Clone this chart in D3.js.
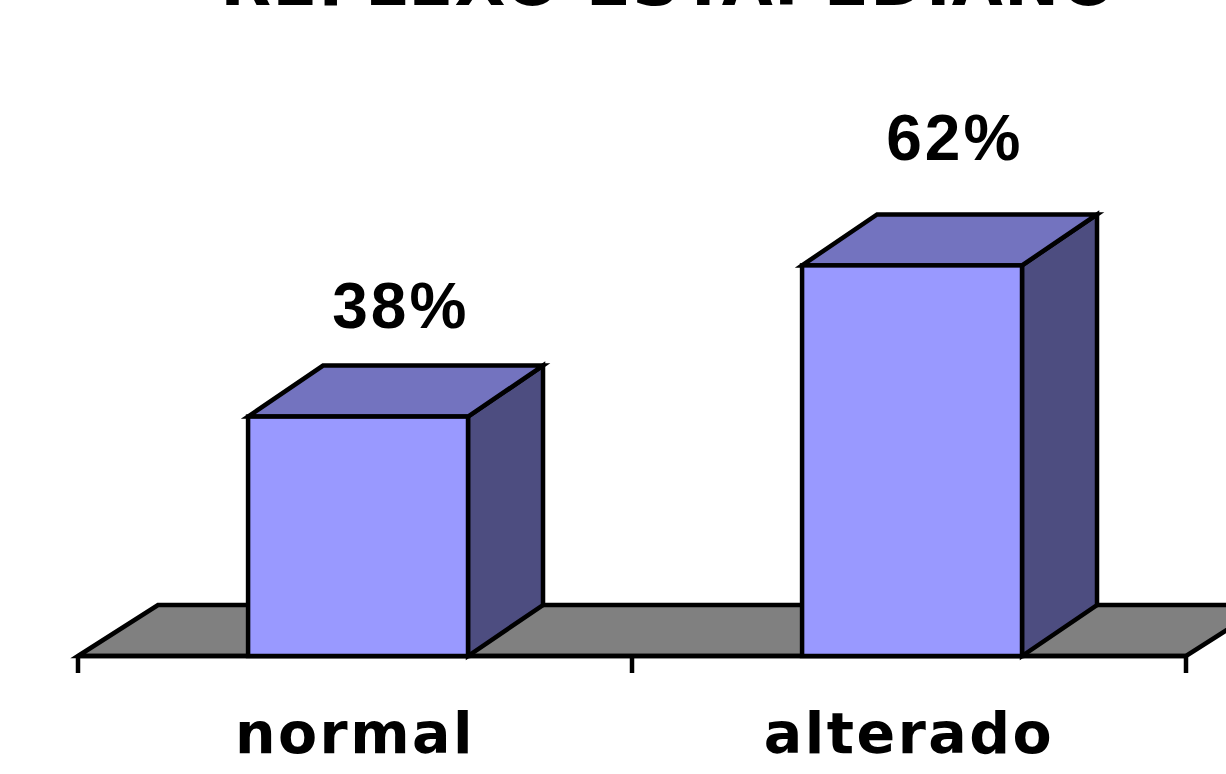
<!DOCTYPE html>
<html>
<head>
<meta charset="utf-8">
<script src="https://cdn.jsdelivr.net/npm/d3@7"></script>
<style>
  html, body { margin: 0; padding: 0; background: #fff; }
  svg { display: block; }
</style>
</head>
<body>
<svg id="chart" width="1226" height="774"></svg>
<script>
// Reflexo estapediano: share of normal vs. altered results
const title = "REFLEXO ESTAPEDIANO";
const categories = ["normal", "alterado"];
const values = [38, 62];
const valueLabels = ["38%", "62%"];

const W = 1226, H = 774;
const svg = d3.select("#chart");

// Horizontal band per category along the floor's front edge
const x = d3.scaleBand().domain(categories).range([78, 1186]).padding(0);
// Vertical value scale (percent) for the bar fronts
const y = d3.scaleLinear().domain([0, 100]).range([656, 26]);
// Value labels float above the bar tops
const yLabel = d3.scaleLinear().domain([0, 100]).range([594, -106]);

// 3D offsets
const depthX = 75, depthY = -51;
const floorDX = 80, floorDY = -51;

const frontColor = "#9999FF";
const topColor = "#7373BF";
const sideColor = "#4D4D80";
const floorColor = "#808080";
const stroke = "#000";
const sw = 4.5;

const [x0, x1] = x.range();
const y0 = y(0);

// Floor
svg.append("polygon")
  .attr("points", [[x0, y0], [x0 + floorDX, y0 + floorDY], [x1 + floorDX, y0 + floorDY], [x1, y0]].join(" "))
  .attr("fill", floorColor)
  .attr("stroke", stroke)
  .attr("stroke-width", sw)
  .attr("stroke-linejoin", "miter");

// Axis line with tick marks at the band boundaries
const axis = svg.append("g");
axis.append("line")
  .attr("x1", x0).attr("x2", x1)
  .attr("y1", y0).attr("y2", y0)
  .attr("stroke", stroke).attr("stroke-width", sw);
const boundaries = categories.map(c => x(c)).concat([x1]);
axis.selectAll("line.tick").data(boundaries).enter().append("line")
  .attr("class", "tick")
  .attr("x1", d => d).attr("x2", d => d)
  .attr("y1", y0).attr("y2", y0 + 17)
  .attr("stroke", stroke).attr("stroke-width", sw);

// Bars
const bw = x.bandwidth();
const barOffset = bw * 0.307, barWidth = bw * 0.397;
const bars = svg.selectAll("g.bar").data(categories.map((c, i) => ({ c, v: values[i], label: valueLabels[i] })))
  .enter().append("g").attr("class", "bar");

bars.each(function(d) {
  const g = d3.select(this);
  const bx = x(d.c) + barOffset;
  const top = y(d.v);
  const right = bx + barWidth;
  // side face
  g.append("polygon")
    .attr("points", [[right, top], [right + depthX, top + depthY], [right + depthX, y0 + depthY], [right, y0]].join(" "))
    .attr("fill", sideColor).attr("stroke", stroke).attr("stroke-width", sw).attr("stroke-linejoin", "miter");
  // top face
  g.append("polygon")
    .attr("points", [[bx, top], [bx + depthX, top + depthY], [right + depthX, top + depthY], [right, top]].join(" "))
    .attr("fill", topColor).attr("stroke", stroke).attr("stroke-width", sw).attr("stroke-linejoin", "miter");
  // front face
  g.append("rect")
    .attr("x", bx).attr("y", top)
    .attr("width", barWidth).attr("height", y0 - top)
    .attr("fill", frontColor).attr("stroke", stroke).attr("stroke-width", sw);
  // value label
  g.append("text")
    .attr("x", bx + barWidth / 2 + depthX * 0.57)
    .attr("y", yLabel(d.v))
    .attr("text-anchor", "middle")
    .attr("font-family", "'Liberation Sans', Arial, sans-serif")
    .attr("font-weight", "bold")
    .attr("font-size", 64)
    .attr("letter-spacing", 3)
    .attr("fill", "#000")
    .text(d.label);
});

// Category labels
svg.selectAll("text.cat").data(categories).enter().append("text")
  .attr("class", "cat")
  .attr("x", d => x(d) + bw / 2)
  .attr("y", 753)
  .attr("text-anchor", "middle")
  .attr("font-family", "'DejaVu Sans', Verdana, sans-serif")
  .attr("font-weight", "bold")
  .attr("font-size", 57)
  .attr("letter-spacing", 2.5)
  .attr("fill", "#000")
  .text(d => d);

// Title (partly above the visible area)
svg.append("text")
  .attr("x", 669)
  .attr("y", 5)
  .attr("text-anchor", "middle")
  .attr("font-family", "'DejaVu Sans', Verdana, sans-serif")
  .attr("font-weight", "bold")
  .attr("font-size", 66)
  .attr("letter-spacing", 1.2)
  .attr("fill", "#000")
  .text(title);
</script>
</body>
</html>
